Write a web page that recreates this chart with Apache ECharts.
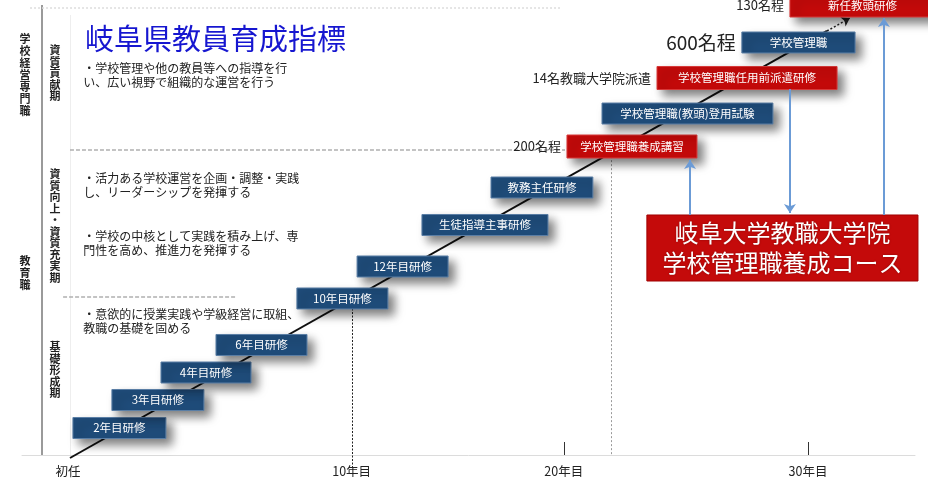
<!DOCTYPE html>
<html><head><meta charset="utf-8">
<script src="https://cdn.jsdelivr.net/npm/echarts@6/dist/echarts.min.js"></script>
<style>html,body{margin:0;padding:0;background:#fff}#c{width:928px;height:481px}</style>
</head><body><div id="c"></div>
<script>
// ---- x axis: career years (the slide is not drawn to scale; tick spots)
const tickPositions = [0, 11.5, 20.1, 30];
const tickLabels = ['初任', '10年目', '20年目', '30年目'];
const tickMarks = [20.1, 30];

// ---- training steps (start year, end year, level 0-100)
const trainingNames = ['2年目研修','3年目研修','4年目研修','6年目研修','10年目研修','12年目研修','生徒指導主事研修','教務主任研修','学校管理職養成講習','学校管理職(教頭)登用試験','学校管理職任用前派遣研修','学校管理職','新任教頭研修'];
const trainingStart = [0.20, 1.78, 3.77, 6.00, 9.28, 11.72, 14.35, 17.15, 20.23, 21.65, 23.88, 27.32, 29.27];
const trainingEnd   = [3.97, 5.51, 7.42, 9.69, 12.97, 15.41, 19.46, 21.28, 25.50, 28.58, 31.18, 31.91, 35.15];
const trainingLevel = [5.93, 12.09, 18.13, 24.18, 34.40, 41.43, 50.55, 58.79, 67.80, 75.05, 82.86, 90.66, 98.79];
const trainingKind  = ['県','県','県','県','県','県','県','県','大学','県','大学','県','大学'];
const trainingNote  = ['','','','','','','','','200名程','','14名教職大学院派遣','600名程','130名程'];

// ---- university course box
const courseLines = ['岐阜大学教職大学院', '学校管理職養成コース'];
const courseX = [23.47, 34.46];
const courseY = [38.24, 52.75];

// ---- links between course and trainings
const linkX    = [25.22, 29.27, 33.08];
const linkFrom = [52.75, 80.44, 52.75];
const linkTo   = [64.84, 53.19, 96.04];

// ---- career path line
const pathX = [0.08, 30.77, 31.70];
const pathY = [-0.66, 93.19, 96.04];

// ---- stage labels (left side)
const roleNames = ['学校経営専門職', '教育職'];
const roleLevel = [83.5, 40.0];
const stageNames = ['資質貢献期', '資質向上・資質充実期', '基礎形成期'];
const stageLevel = [83.96, 50.33, 18.68];
const stageBounds = [67.03, 34.73];

// ---- indicator descriptions
const descTexts = [
  '・学校管理や他の教員等への指導を行\nい、広い視野で組織的な運営を行う',
  '・活力ある学校運営を企画・調整・実践\nし、リーダーシップを発揮する',
  '・学校の中核として実践を積み上げ、専\n門性を高め、推進力を発揮する',
  '・意欲的に授業実践や学級経営に取組、\n教職の基礎を固める'
];
const descLevel = [83.52, 59.34, 46.48, 29.34];

const FONT = '"Noto Sans CJK JP", "Noto Sans", sans-serif';
const chart = echarts.init(document.getElementById('c'));

const trainingData = trainingNames.map((n, i) => ({
  name: n, value: [trainingStart[i], trainingEnd[i], trainingLevel[i], i]
}));

function renderTraining(params, api) {
  const i = api.value(3);
  const p0 = api.coord([api.value(0), api.value(2)]);
  const p1 = api.coord([api.value(1), api.value(2)]);
  const red = trainingKind[i] === '大学';
  const h = red ? 23 : 21;
  const children = [{
    type: 'rect',
    shape: {x: p0[0], y: p0[1] - h / 2, width: p1[0] - p0[0], height: h},
    style: {fill: red ? '#c40a0a' : '#1f4c7a', stroke: red ? '#d83a3a' : '#5b7fa6', lineWidth: 1,
      shadowBlur: 10, shadowOffsetX: 6, shadowOffsetY: 6, shadowColor: 'rgba(0,0,0,0.5)'}
  }, {
    type: 'text', x: (p0[0] + p1[0]) / 2, y: p0[1],
    style: {text: trainingNames[i], fill: '#fff', font: '11.5px ' + FONT, align: 'center', verticalAlign: 'middle'}
  }];
  const note = trainingNote[i];
  if (note) {
    const big = note === '600名程';
    children.push({
      type: 'text', x: p0[0] - 6, y: p0[1],
      style: {text: note, fill: '#222', font: (big ? '19px ' : '13px ') + FONT, align: 'right', verticalAlign: 'middle'}
    });
  }
  return {type: 'group', children};
}

function renderCourse(params, api) {
  const a = api.coord([courseX[0], courseY[1]]);
  const b = api.coord([courseX[1], courseY[0]]);
  return {type: 'group', children: [
    {type: 'rect', shape: {x: a[0], y: a[1], width: b[0] - a[0], height: b[1] - a[1]},
     style: {fill: '#c40a0a', stroke: '#a00000', lineWidth: 1}},
    {type: 'text', x: (a[0] + b[0]) / 2, y: (a[1] + b[1]) / 2,
     style: {text: courseLines.join('\n'), fill: '#fff', font: '24px ' + FONT, lineHeight: 30,
       align: 'center', verticalAlign: 'middle', textShadowColor: 'rgba(0,0,0,0.35)', textShadowBlur: 2}}
  ]};
}

function renderVertical(names, xPos, lh) {
  return function (params, api) {
    const p = api.coord([xPos, api.value(0)]);
    return {type: 'text', x: p[0], y: p[1],
      style: {text: names[params.dataIndex].split('').join('\n'), fill: '#222', font: 'bold 11px ' + FONT,
        lineHeight: lh, align: 'center', verticalAlign: 'middle'}};
  };
}

function renderDesc(params, api) {
  const p = api.coord([0.62, api.value(0)]);
  return {type: 'text', x: p[0], y: p[1],
    style: {text: descTexts[params.dataIndex], fill: '#222', font: '12px ' + FONT, lineHeight: 14,
      align: 'left', verticalAlign: 'middle'}};
}

const xMin = -1.865, xMax = 34.34;

chart.setOption({
  animation: false,
  title: {text: '岐阜県教員育成指標', left: 80, top: 19,
    textStyle: {color: '#1616d0', fontSize: 29, fontWeight: 'normal', fontFamily: FONT}},
  grid: {left: 22, right: 13, top: 0, bottom: 26},
  xAxis: {
    type: 'value', min: xMin, max: xMax,
    splitLine: {show: false},
    axisLine: {lineStyle: {color: '#dcdcdc', width: 1}},
    axisTick: {show: true, customValues: tickMarks, inside: true, length: 13, lineStyle: {color: '#333', width: 1}},
    axisLabel: {customValues: tickPositions, margin: 10, color: '#222', fontSize: 12.5, fontFamily: FONT,
      formatter: v => {
        let k = 0, d = 1e9;
        tickPositions.forEach((t, j) => { if (Math.abs(t - v) < d) { d = Math.abs(t - v); k = j; } });
        return tickLabels[k];
      }}
  },
  yAxis: {type: 'value', min: 0, max: 100, show: false},
  series: [
    {type: 'lines', coordinateSystem: 'cartesian2d', clip: false, z: 1, silent: true,
     lineStyle: {color: '#9a9a9a', width: 2, opacity: 1},
     data: [{coords: [[-1.05, 98.9], [-1.05, 0]]}]},
    {type: 'lines', coordinateSystem: 'cartesian2d', clip: false, z: 1, silent: true,
     lineStyle: {color: '#eeeeee', width: 1, opacity: 1},
     data: [{coords: [[0.08, 96.7], [0.08, 0]]}]},
    {type: 'lines', coordinateSystem: 'cartesian2d', clip: false, z: 1, silent: true,
     lineStyle: {color: '#b0b0b0', width: 1.5, type: [4, 2], opacity: 1},
     data: [{coords: [[0.08, stageBounds[0]], [20.15, stageBounds[0]]]},
            {coords: [[-0.2, stageBounds[1]], [6.85, stageBounds[1]]]}]},
    {type: 'lines', coordinateSystem: 'cartesian2d', clip: false, z: 1, silent: true,
     lineStyle: {color: '#dddddd', width: 1.5, type: [2, 2], opacity: 1},
     data: [{coords: [[-1.54, 98.2], [19.95, 98.2]]}]},
    {type: 'lines', coordinateSystem: 'cartesian2d', clip: false, z: 1, silent: true,
     lineStyle: {color: '#9a9a9a', width: 1, type: [2, 2], opacity: 1},
     data: [{coords: [[22.01, 69.2], [22.01, 0]]}]},
    {type: 'lines', coordinateSystem: 'cartesian2d', clip: false, z: 1, silent: true,
     lineStyle: {color: '#222', width: 1, type: [2, 1.5], opacity: 1},
     data: [{coords: [[11.51, 34.5], [11.51, -3.3]]}]},
    {type: 'lines', coordinateSystem: 'cartesian2d', clip: false, z: 2, silent: true,
     lineStyle: {color: '#111', width: 2, opacity: 1},
     data: [{coords: [[pathX[0], pathY[0]], [pathX[1], pathY[1]]]}]},
    {type: 'lines', coordinateSystem: 'cartesian2d', clip: false, z: 2, silent: true,
     symbol: ['none', 'arrow'], symbolSize: 8,
     lineStyle: {color: '#222', width: 1.5, type: [2, 2], opacity: 1},
     data: [{coords: [[pathX[1], pathY[1]], [pathX[2], pathY[2]]]}]},
    {type: 'custom', coordinateSystem: 'cartesian2d', clip: false, z: 3, renderItem: renderTraining, data: trainingData},
    {type: 'custom', coordinateSystem: 'cartesian2d', clip: false, z: 3, renderItem: renderCourse, data: [[courseX[0], courseY[0]]]},
    {type: 'lines', coordinateSystem: 'cartesian2d', clip: false, z: 4, silent: true,
     symbol: ['none', 'arrow'], symbolSize: 9,
     lineStyle: {color: '#6b9bd6', width: 2, opacity: 1},
     data: linkX.map((x, i) => ({coords: [[x, linkFrom[i]], [x, linkTo[i]]]}))},
    {type: 'custom', coordinateSystem: 'cartesian2d', clip: false, z: 3, renderItem: renderVertical(roleNames, -1.74, 12),
     data: roleLevel.map(v => [v])},
    {type: 'custom', coordinateSystem: 'cartesian2d', clip: false, z: 3, renderItem: renderVertical(stageNames, -0.53, 11.5),
     data: stageLevel.map(v => [v])},
    {type: 'custom', coordinateSystem: 'cartesian2d', clip: false, z: 3, renderItem: renderDesc,
     data: descLevel.map(v => [v])}
  ]
});
</script></body></html>
